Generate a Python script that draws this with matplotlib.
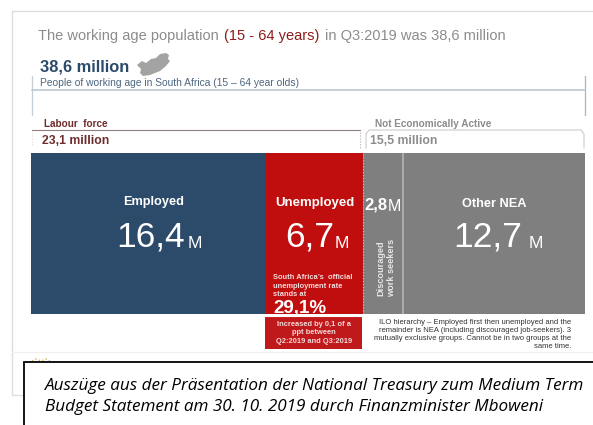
import matplotlib
matplotlib.use("Agg")
from matplotlib import pyplot as plt
from matplotlib.patches import Polygon, Rectangle

# population split, millions
groups = ["Employed", "Unemployed", "Discouraged", "Other NEA"]
values = [16.4, 6.7, 2.8, 12.7]
value_labels = ["16,4", "6,7", "2,8", "12,7"]
bar_colors = ["#2c4a69", "#c00d0d", "#7f7f7f", "#7f7f7f"]

labour_force = "23,1 million"
not_active = "15,5 million"
working_age = "38,6 million"
rate_label = "29,1%"

W, H = 593, 425
GRAY = "#8c8c8c"
DARKRED = "#8e1c1c"
BLUE = "#2c4a69"

plt.rcParams["font.family"] = ["Liberation Sans", "DejaVu Sans"]
fig = plt.figure(figsize=(W / 100, H / 100), dpi=100)

# stacked bar
ax = fig.add_axes([31 / W, 1 - 314 / H, 554 / W, 161 / H], zorder=1)
left = 0
for g, v, c in zip(groups, values, bar_colors):
    ax.barh(0, v, left=left, height=1, color=c, linewidth=0)
    left += v
ax.set_xlim(0, sum(values))
ax.set_ylim(-0.5, 0.5)
ax.axis("off")
# separator between the two grey blocks
ax.axvline(sum(values[:3]), color="#b5b5b5", lw=1.2)
ax.axvline(sum(values[:2]) + 0.03, color="#c8c8c8", lw=0.8, ls=":")

# page layer in pixels, y pointing down
page = fig.add_axes([0, 0, 1, 1], zorder=2)
page.set_xlim(0, W)
page.set_ylim(H, 0)
page.axis("off")

# slide frame
page.plot([593, 12, 12, 24], [11, 11, 395, 395], color="#dddddd", lw=1)
page.plot([12, 593], [352, 352], color="#f0f0f0", lw=1)

# headline
page.text(38, 36, "The working age population", color=GRAY, fontsize=10.5, va="center")
page.text(224, 36, "(15 - 64 years)", color=DARKRED, fontsize=10.5, va="center")
page.text(325, 36, "in Q3:2019 was 38,6 million", color=GRAY, fontsize=10.5, va="center")

page.text(40, 67, working_age, color=BLUE, fontsize=11.8, fontweight="bold", va="center")
page.text(40, 83, "People of working age in South Africa (15 \u2013 64 year olds)",
          color="#4d6680", fontsize=7.4, va="center")
page.add_patch(Polygon([(137, 65), (142, 61), (146, 63), (151, 59), (156, 58), (160, 54),
                        (166, 53), (169, 55), (168, 59), (170, 61), (166, 66), (160, 71),
                        (150, 75), (143, 76), (140, 73), (141, 69)],
                       closed=True, color="#a3a3a3", lw=0))

# bracket under the working age line
page.plot([32, 32], [76, 115], color="#c5ced6", lw=0.9)
page.plot([585, 585], [76, 115], color="#a9b5c0", lw=0.9)
page.plot([32, 585], [90, 90], color="#b9c4cd", lw=1.1)

# labour force / NEA headers
page.text(44, 124, "Labour  force", color="#6e2c2c", fontsize=7.2, fontweight="bold", va="center")
page.text(42, 141, labour_force, color="#6e2c2c", fontsize=8.8, fontweight="bold", va="center")
page.plot([32, 360], [130, 130], color="#8f7f7f", lw=0.8)
page.plot([32, 32], [132, 146], color="#dddddd", lw=0.8, ls=":")
page.plot([360, 360], [132, 148], color="#aaaaaa", lw=0.8, ls=":")

page.text(375, 124, "Not Economically Active", color=GRAY, fontsize=7.2, fontweight="bold", va="center")
page.text(370, 141, not_active, color=GRAY, fontsize=8.8, fontweight="bold", va="center")
page.plot([366, 366, 369, 581, 584, 584], [148, 134, 130, 130, 134, 148], color="#cccccc", lw=0.8)

# block captions
page.text(154, 202, groups[0], color="white", fontsize=9.2, fontweight="bold", ha="center", va="center")
page.text(315, 203, groups[1], color="white", fontsize=9.5, fontweight="bold", ha="center", va="center")
page.text(494, 204, groups[3], color="white", fontsize=9.2, fontweight="bold", ha="center", va="center")

# big numbers with their M
page.text(116, 237, value_labels[0], color="white", fontsize=25.5, va="center")
page.text(188, 243, "M", color="white", fontsize=12.5, va="center")
page.text(285, 237, value_labels[1], color="white", fontsize=25.5, va="center")
page.text(335, 243, "M", color="white", fontsize=12.5, va="center")
page.text(364, 205, value_labels[2], color="white", fontsize=12, fontweight="bold", va="center")
page.text(388, 206, "M", color="white", fontsize=11.5, va="center")
page.text(453, 237, value_labels[3], color="white", fontsize=25.5, va="center")
page.text(529, 243, "M", color="white", fontsize=12.5, va="center")

page.text(386.5, 268, "Discouraged\nwork seekers", color="#e6e6e6", fontsize=6.6, fontweight="bold",
          rotation=90, ha="center", va="center", linespacing=1.2)

page.text(273, 286, "South Africa\u2019s  official\nunemployment rate\nstands at",
          color="#f3dcdc", fontsize=5.4, fontweight="bold", va="center", linespacing=1.3)
page.text(273, 309, rate_label, color="white", fontsize=13.5, fontweight="bold", va="center")

# red note below the bar
page.add_patch(Rectangle((265, 317), 97, 32, color="#c0191b", lw=0))
page.plot([265, 363], [316, 316], color="white", lw=0.8)
page.text(314, 333, "Increased by 0,1 of a\nppt between\nQ2:2019 and Q3:2019", color="#f4d9d9",
          fontsize=5.4, fontweight="bold", ha="center", va="center", linespacing=1.35)

page.text(571, 334, "ILO hierarchy \u2013 Employed first then unemployed and the\n"
          "remainder is NEA (including discouraged job-seekers). 3\n"
          "mutually exclusive groups. Cannot be in two groups at the\nsame time.",
          color="#333333", fontsize=5.5, ha="right", va="center", linespacing=1.2)

# logo remnant above the caption box
page.plot([32, 36, 41, 46, 50], [361, 359, 361, 359, 361], color="#d9b45c", lw=1, ls=":")

# caption box
page.add_patch(Rectangle((24, 362), 600, 80, facecolor="white", edgecolor="black", lw=1.3, zorder=5))
page.text(45, 386, "Ausz\u00fcge aus der Pr\u00e4sentation der National Treasury zum Medium Term",
          family="Open Sans", style="italic", color="black", fontsize=12.3, va="center", zorder=6)
page.text(45, 407, "Budget Statement am 30. 10. 2019 durch Finanzminister Mboweni",
          family="Open Sans", style="italic", color="black", fontsize=12.3, va="center", zorder=6)

plt.savefig("out.png", dpi=100)
